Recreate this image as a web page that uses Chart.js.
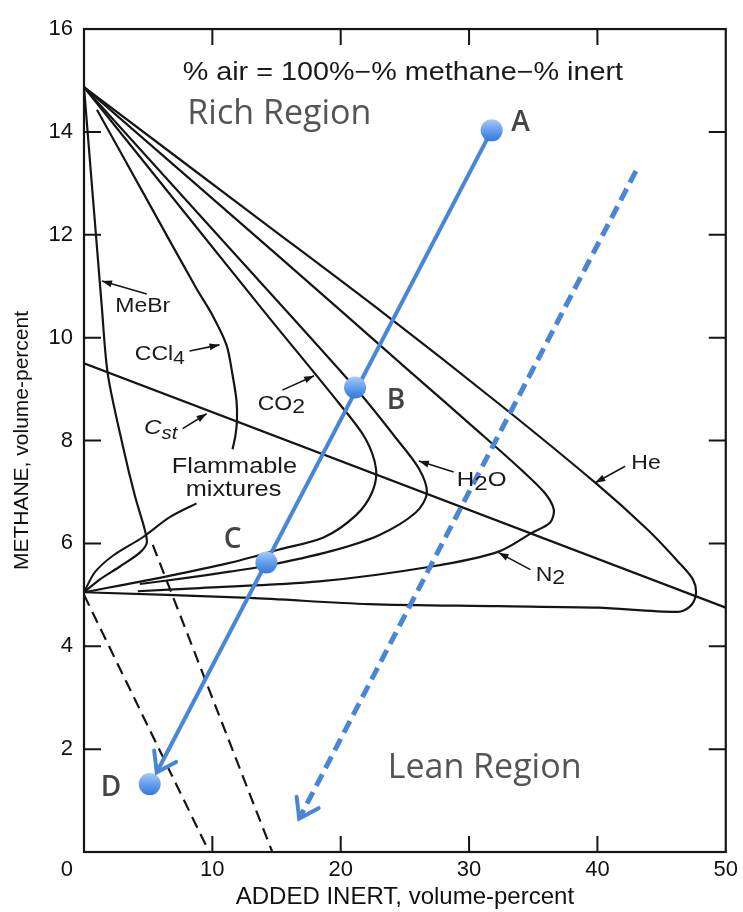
<!DOCTYPE html>
<html>
<head>
<meta charset="utf-8">
<script src="https://cdn.jsdelivr.net/npm/chart.js@4.4.0/dist/chart.umd.min.js"></script>
<style>
  html, body { margin: 0; padding: 0; background: #fff; }
</style>
</head>
<body>
<canvas id="chart" width="743" height="912"></canvas>
<script>
// x = added inert (vol-%), y = methane (vol-%)
const heX = [0, 13.66, 23.21, 32.3, 39.83, 43.94, 46.27, 47.44, 47.67, 47.2, 46.27, 40.06, 32.3, 22.21, 12.89, 0];
const heY = [14.87, 12.30, 10.50, 8.72, 7.18, 6.26, 5.65, 5.30, 5.01, 4.77, 4.67, 4.75, 4.78, 4.82, 4.94, 5.05];

const n2X = [0, 15.0, 25.31, 30.98, 34.2, 35.9, 36.6, 36.3, 34.86, 32.30, 27.10, 18.32, 9.01, 4.19];
const n2Y = [14.87, 11.62, 9.36, 8.12, 7.40, 6.98, 6.66, 6.40, 6.20, 5.84, 5.55, 5.26, 5.13, 5.07];

const h2oX = [0, 10.5, 21.12, 24.3, 26.1, 26.71, 25.85, 22.98, 19.10, 13.90, 11.34, 8.0, 4.35];
const h2oY = [14.87, 11.97, 9.03, 8.05, 7.45, 6.98, 6.60, 6.16, 5.84, 5.55, 5.45, 5.33, 5.21];

const co2X = [0, 13.9, 19.88, 21.9, 22.75, 22.44, 21.2, 18.7, 15.2, 11.34, 5.90, 0];
const co2Y = [14.87, 10.55, 8.72, 8.05, 7.45, 6.99, 6.55, 6.12, 5.88, 5.62, 5.33, 5.05];

const ccl4X = [1.01, 5.0, 8.77, 10.02, 11.10, 11.57, 11.88, 11.92, 11.80, 11.57];
const ccl4Y = [14.43, 12.64, 10.95, 10.43, 9.86, 9.28, 8.78, 8.40, 8.10, 7.83];

const mebrX = [0, 1.40, 1.86, 3.03, 3.96, 4.74, 4.89, 4.35, 2.80, 1.24, 0];
const mebrY = [14.87, 10.56, 9.28, 7.89, 6.93, 6.26, 6.01, 5.82, 5.55, 5.30, 5.05];

const leaderX = [8.77, 6.68, 4.58, 2.25, 0.85, 0];
const leaderY = [6.78, 6.51, 6.12, 5.76, 5.44, 5.05];

const cstX = [0, 50];
const cstY = [9.5, 4.75];

const dash1X = [0, 9.75];
const dash1Y = [5.0, 0];
const dash2X = [5.36, 14.67];
const dash2Y = [5.97, 0];

// A, B, C, D
const pointNames = ['A', 'B', 'C', 'D'];
const pointX = [31.76, 21.12, 14.21, 5.12];
const pointY = [14.03, 9.03, 5.63, 1.32];

const pathX = [31.76, 5.67];
const pathY = [14.03, 1.55];
const leanX = [43.0, 16.77];
const leanY = [13.24, 0.65];

const xTicks = [0, 10, 20, 30, 40, 50];
const yTicks = [0, 2, 4, 6, 8, 10, 12, 14, 16];

const pts = (xs, ys) => xs.map((x, i) => ({ x: x, y: ys[i] }));

const BLACK = '#151515';
const BLUE = '#4a86d6';

function curve(label, xs, ys, extra) {
    return Object.assign({
        label: label,
        data: pts(xs, ys),
        showLine: true,
        borderColor: BLACK,
        borderWidth: 2.2,
        pointRadius: 0,
        tension: 0.3,
        fill: false
    }, extra || {});
}

function dotFill(c) {
    const ch = c.chart;
    if (!ch.chartArea || !c.parsed) return '#5b9aea';
    const py = ch.scales.y.getPixelForValue(c.parsed.y);
    const g = ch.ctx.createLinearGradient(0, py - 11, 0, py + 11);
    g.addColorStop(0, '#a6caf7');
    g.addColorStop(0.55, '#5e9bec');
    g.addColorStop(1, '#3777d6');
    return g;
}

const datasets = [
    {
        label: 'points',
        data: pts(pointX, pointY),
        pointRadius: 11,
        pointBackgroundColor: dotFill,
        pointBorderWidth: 0,
        showLine: false
    },
    curve('path', pathX, pathY, { borderColor: BLUE, borderWidth: 4, tension: 0 }),
    curve('lean', leanX, leanY, { borderColor: BLUE, borderWidth: 5, tension: 0, borderDash: [13, 7] }),
    curve('He', heX, heY),
    curve('N2', n2X, n2Y),
    curve('H2O', h2oX, h2oY),
    curve('CO2', co2X, co2Y),
    curve('CCl4', ccl4X, ccl4Y),
    curve('MeBr', mebrX, mebrY),
    curve('leader', leaderX, leaderY, { borderWidth: 2 }),
    curve('Cst', cstX, cstY, { tension: 0 }),
    curve('dash1', dash1X, dash1Y, { tension: 0, borderDash: [12, 7] }),
    curve('dash2', dash2X, dash2Y, { tension: 0, borderDash: [12, 7] })
];

// --- text on the plot (anchored in data units) ---
const SCAN = '"Liberation Sans", Arial, sans-serif';
const SLIDE = '"Open Sans", sans-serif';
const SX = 1.15;

const notes = [
    { parts: [{ t: '% air = 100%\u2212% methane\u2212% inert' }], x: 24.84, y: 15.0, size: 25 },
    { parts: [{ t: 'MeBr' }], x: 4.58, y: 10.49, size: 20 },
    { parts: [{ t: 'CCl' }, { t: '4', s: 0.9, dy: 4 }], x: 5.90, y: 9.57, size: 20 },
    { parts: [{ t: 'CO' }, { t: '2', dy: 3 }], x: 15.37, y: 8.59, size: 20 },
    { parts: [{ t: 'C', it: true }, { t: 'st', it: true, s: 0.85, dy: 5 }], x: 5.98, y: 8.13, size: 21 },
    { parts: [{ t: 'Flammable' }], x: 11.72, y: 7.37, size: 22 },
    { parts: [{ t: 'mixtures' }], x: 11.65, y: 6.93, size: 22 },
    { parts: [{ t: 'H' }, { t: '2', dy: 4 }, { t: 'O' }], x: 30.98, y: 7.12, size: 21 },
    { parts: [{ t: 'N' }, { t: '2', dy: 3 }], x: 36.34, y: 5.26, size: 20 },
    { parts: [{ t: 'He' }], x: 43.79, y: 7.44, size: 20 },
    { parts: [{ t: 'Rich Region' }], x: 15.22, y: 14.16, size: 34, font: SLIDE, color: '#555', sx: 1 },
    { parts: [{ t: 'Lean Region' }], x: 31.21, y: 1.44, size: 34, font: SLIDE, color: '#555', sx: 1 },
    { parts: [{ t: 'A' }], x: 34.0, y: 14.01, size: 28, font: SLIDE, bold: true, color: '#444', sx: 1 },
    { parts: [{ t: 'B' }], x: 24.30, y: 8.61, size: 28, font: SLIDE, bold: true, color: '#444', sx: 1 },
    { parts: [{ t: 'C' }], x: 11.57, y: 5.91, size: 28, font: SLIDE, bold: true, color: '#444', sx: 1 },
    { parts: [{ t: 'D' }], x: 2.10, y: 1.09, size: 28, font: SLIDE, bold: true, color: '#444', sx: 1 }
];

// label pointers: from text to curve
const pointers = [
    [4.89, 10.85, 1.40, 11.10],
    [8.23, 9.74, 10.56, 9.86],
    [15.45, 8.98, 17.93, 9.26],
    [7.69, 8.23, 9.55, 8.52],
    [28.80, 7.39, 26.09, 7.60],
    [34.78, 5.49, 32.30, 5.82],
    [42.16, 7.50, 39.83, 7.18]
];

function fontFor(n, p) {
    const size = n.size * (p.s || 1);
    return (p.it ? 'italic ' : '') + (n.bold ? '600 ' : '') + size + 'px ' + (n.font || SCAN);
}

function drawNote(ctx, n, cx, by) {
    const sx = n.sx || SX;
    let w = 0;
    n.parts.forEach(p => { ctx.font = fontFor(n, p); w += ctx.measureText(p.t).width; });
    ctx.save();
    ctx.translate(cx, by);
    ctx.scale(sx, 1);
    ctx.fillStyle = n.color || '#1a1a1a';
    ctx.textBaseline = 'alphabetic';
    ctx.textAlign = 'left';
    let xx = -w / 2;
    n.parts.forEach(p => {
        ctx.font = fontFor(n, p);
        ctx.fillText(p.t, xx, p.dy || 0);
        xx += ctx.measureText(p.t).width;
    });
    ctx.restore();
}

function chevron(ctx, from, to, len, ang) {
    const a = Math.atan2(to.y - from.y, to.x - from.x);
    ctx.beginPath();
    ctx.moveTo(to.x - len * Math.cos(a - ang), to.y - len * Math.sin(a - ang));
    ctx.lineTo(to.x, to.y);
    ctx.lineTo(to.x - len * Math.cos(a + ang), to.y - len * Math.sin(a + ang));
    ctx.stroke();
}

const framePlugin = {
    id: 'frame',
    beforeDatasetsDraw(chart) {
        const { ctx, chartArea: a, scales: { x, y } } = chart;
        ctx.save();
        ctx.strokeStyle = BLACK;
        ctx.lineWidth = 2.2;
        ctx.strokeRect(a.left, a.top, a.right - a.left, a.bottom - a.top);
        ctx.lineWidth = 2;
        ctx.beginPath();
        xTicks.slice(1, -1).forEach(v => {
            const px = x.getPixelForValue(v);
            ctx.moveTo(px, a.bottom); ctx.lineTo(px, a.bottom - 16);
            ctx.moveTo(px, a.top); ctx.lineTo(px, a.top + 16);
        });
        yTicks.slice(1, -1).forEach(v => {
            const py = y.getPixelForValue(v);
            ctx.moveTo(a.left, py); ctx.lineTo(a.left + 17, py);
            ctx.moveTo(a.right, py); ctx.lineTo(a.right - 17, py);
        });
        ctx.stroke();
        ctx.restore();
    }
};

const notesPlugin = {
    id: 'notes',
    afterDatasetsDraw(chart) {
        const { ctx, scales: { x, y } } = chart;
        ctx.save();

        // pointers with small filled heads
        ctx.strokeStyle = BLACK;
        ctx.fillStyle = BLACK;
        ctx.lineWidth = 1.6;
        pointers.forEach(p => {
            const x1 = x.getPixelForValue(p[0]), y1 = y.getPixelForValue(p[1]);
            const x2 = x.getPixelForValue(p[2]), y2 = y.getPixelForValue(p[3]);
            const a = Math.atan2(y2 - y1, x2 - x1);
            ctx.beginPath(); ctx.moveTo(x1, y1); ctx.lineTo(x2, y2); ctx.stroke();
            ctx.beginPath();
            ctx.moveTo(x2, y2);
            ctx.lineTo(x2 - 10 * Math.cos(a) + 3.5 * Math.sin(a), y2 - 10 * Math.sin(a) - 3.5 * Math.cos(a));
            ctx.lineTo(x2 - 10 * Math.cos(a) - 3.5 * Math.sin(a), y2 - 10 * Math.sin(a) + 3.5 * Math.cos(a));
            ctx.closePath(); ctx.fill();
        });

        // blue arrow heads, taken from the drawn line elements
        ctx.strokeStyle = BLUE;
        ctx.lineWidth = 4;
        ctx.lineCap = 'round';
        chart.data.datasets.forEach((ds, i) => {
            if (ds.label !== 'path' && ds.label !== 'lean') return;
            const el = chart.getDatasetMeta(i).data;
            chevron(ctx, el[el.length - 2], el[el.length - 1], 22, 0.6);
        });

        notes.forEach(n => drawNote(ctx, n, x.getPixelForValue(n.x), y.getPixelForValue(n.y)));
        ctx.restore();
    }
};

new Chart(document.getElementById('chart'), {
    type: 'scatter',
    data: { datasets: datasets },
    options: {
        responsive: false,
        animation: false,
        events: [],
        layout: { padding: { top: 16, right: 15, left: 0, bottom: 0 } },
        plugins: { legend: { display: false }, tooltip: { enabled: false } },
        scales: {
            x: {
                type: 'linear',
                min: 0,
                max: 50,
                afterFit: s => { s.height = 60; },
                grid: { display: false, drawTicks: false },
                border: { display: false },
                afterBuildTicks: s => { s.ticks = xTicks.map(v => ({ value: v })); },
                ticks: {
                    padding: 5,
                    color: '#111',
                    maxRotation: 0,
                    font: { family: SCAN, size: 22 },
                    callback: v => v === 0 ? '' : v
                },
                title: {
                    display: true,
                    text: 'ADDED INERT, volume-percent',
                    color: '#111',
                    font: { family: SCAN, size: 24 },
                    padding: { top: 0, bottom: 0 }
                }
            },
            y: {
                type: 'linear',
                min: 0,
                max: 16,
                afterFit: s => { s.width = 84; },
                grid: { display: false, drawTicks: false },
                border: { display: false },
                afterBuildTicks: s => { s.ticks = yTicks.map(v => ({ value: v })); },
                ticks: {
                    padding: 11,
                    color: '#111',
                    font: { family: SCAN, size: 22, lineHeight: 1.64 },
                    // the corner "0" sits below the axis line, as in the original
                    callback: v => v === 0 ? ['', '0'] : v
                },
                title: {
                    display: true,
                    text: 'METHANE, volume-percent',
                    color: '#111',
                    font: { family: SCAN, size: 21 },
                    padding: { top: 10, bottom: 0 }
                }
            }
        }
    },
    plugins: [framePlugin, notesPlugin]
});
</script>
</body>
</html>
